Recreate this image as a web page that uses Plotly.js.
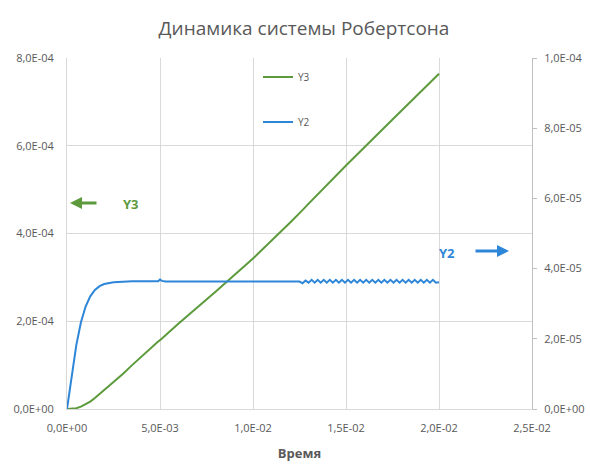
<!DOCTYPE html>
<html><head><meta charset="utf-8">
<script src="https://cdn.plot.ly/plotly-3.0.1.min.js"></script>
<style>html,body{margin:0;padding:0;background:#fff}#c{width:590px;height:464px}</style>
</head><body><div id="c"></div>
<script>
// Smooth part (time, Y3, Y2)
const tA  = [0, 0.00025, 0.0005, 0.00075, 0.001, 0.00125, 0.0015, 0.00175, 0.002, 0.0025, 0.003, 0.0035, 0.004, 0.0045, 0.0049, 0.005, 0.0051, 0.0053, 0.006, 0.008, 0.00862, 0.010, 0.012, 0.0125];
const y3A = [0, 0.3e-6, 1.8e-6, 5.3e-6, 1.05e-5, 1.7e-5, 2.5e-5, 3.4e-5, 4.3e-5, 6.1e-5, 8.0e-5, 1.0e-4, 1.20e-4, 1.39e-4, 1.54e-4, 1.57e-4, 1.61e-4, 1.68e-4, 1.95e-4, 2.68e-4, 2.91e-4, 3.43e-4, 4.25e-4, 4.45e-4];
const y2A = [0, 0.98e-5, 1.82e-5, 2.47e-5, 2.92e-5, 3.21e-5, 3.39e-5, 3.50e-5, 3.56e-5, 3.61e-5, 3.63e-5, 3.64e-5, 3.64e-5, 3.64e-5, 3.64e-5, 3.69e-5, 3.65e-5, 3.63e-5, 3.63e-5, 3.63e-5, 3.63e-5, 3.63e-5, 3.63e-5, 3.63e-5];
// Oscillating part of Y2 (time, Y2)
const tB  = [0.012663, 0.012826, 0.012989, 0.013152, 0.013315, 0.013478, 0.013641, 0.013804, 0.013967, 0.014130, 0.014293, 0.014456, 0.014619, 0.014782, 0.014945, 0.015108, 0.015271, 0.015434, 0.015597, 0.015760, 0.015923, 0.016086, 0.016249, 0.016412, 0.016575, 0.016738, 0.016901, 0.017064, 0.017227, 0.017390, 0.017553, 0.017716, 0.017879, 0.018042, 0.018205, 0.018368, 0.018531, 0.018694, 0.018857, 0.019020, 0.019183, 0.019346, 0.019509, 0.019672, 0.019835, 0.020000];
const y2B = [3.58e-5, 3.66e-5, 3.60e-5, 3.68e-5, 3.60e-5, 3.68e-5, 3.60e-5, 3.68e-5, 3.60e-5, 3.68e-5, 3.60e-5, 3.68e-5, 3.60e-5, 3.68e-5, 3.60e-5, 3.68e-5, 3.60e-5, 3.68e-5, 3.60e-5, 3.68e-5, 3.60e-5, 3.68e-5, 3.60e-5, 3.68e-5, 3.60e-5, 3.68e-5, 3.60e-5, 3.68e-5, 3.60e-5, 3.68e-5, 3.60e-5, 3.68e-5, 3.60e-5, 3.68e-5, 3.60e-5, 3.68e-5, 3.60e-5, 3.68e-5, 3.60e-5, 3.68e-5, 3.60e-5, 3.68e-5, 3.60e-5, 3.68e-5, 3.60e-5, 3.61e-5];
// Linear tail of Y3 (time, Y3)
const tC  = [0.0127, 0.0129, 0.015, 0.0175, 0.020];
const y3C = [4.55e-4, 4.64e-4, 5.55e-4, 6.60e-4, 7.64e-4];

const xTicks = [0, 0.005, 0.010, 0.015, 0.020, 0.025];
const xTickText = ['0,0E+00', '5,0E-03', '1,0E-02', '1,5E-02', '2,0E-02', '2,5E-02'];
const yTicks = [0, 2e-4, 4e-4, 6e-4, 8e-4];
const yTickText = ['0,0E+00', '2,0E-04', '4,0E-04', '6,0E-04', '8,0E-04'];
const y2Ticks = [0, 2e-5, 4e-5, 6e-5, 8e-5, 1e-4];
const y2TickText = ['0,0E+00', '2,0E-05', '4,0E-05', '6,0E-05', '8,0E-05', '1,0E-04'];

const GREEN = '#5c9a3c', BLUE = '#2e86d8', TXT = '#595959', GRID = '#d9d9d9';
const F = '"Open Sans", "Noto Sans", sans-serif';

const traces = [
  {x: tA.concat(tC), y: y3A.concat(y3C), type: 'scatter', mode: 'lines', name: 'Y3',
   line: {color: GREEN, width: 2}, yaxis: 'y', legend: 'legend'},
  {x: tA.concat(tB), y: y2A.concat(y2B), type: 'scatter', mode: 'lines', name: 'Y2',
   line: {color: BLUE, width: 2}, yaxis: 'y2', legend: 'legend2'}
];

const L = 67, R = 532, T = 58, B = 409;
const px = v => (v - L) / (R - L);
const py = v => (B - v) / (B - T);

const layout = {
  width: 590, height: 464,
  margin: {l: L, r: 590 - R, t: T, b: 464 - B},
  paper_bgcolor: '#fff', plot_bgcolor: '#fff',
  font: {family: F, color: TXT, size: 11},
  title: {text: 'Динамика системы Робертсона', font: {family: F, size: 19, color: TXT},
          x: 304/590, xanchor: 'center', y: 1 - 28/464, yanchor: 'middle'},
  xaxis: {range: [0, 0.025], tickvals: xTicks, ticktext: xTickText, showgrid: true, gridcolor: GRID,
          showline: true, linecolor: GRID, zeroline: false, ticks: '', ticklabelstandoff: 9,
          tickfont: {size: 11, color: TXT},
          title: {text: '<b>Время</b>', font: {size: 13, color: TXT}, standoff: 14}},
  yaxis: {range: [0, 8e-4], tickvals: yTicks, ticktext: yTickText, showgrid: true, gridcolor: GRID,
          showline: true, linecolor: GRID, zeroline: false, ticks: '', ticklabelstandoff: 10,
          tickfont: {size: 11, color: TXT}},
  yaxis2: {range: [0, 1e-4], tickvals: y2Ticks, ticktext: y2TickText, overlaying: 'y', side: 'right',
           showgrid: false, showline: true, linecolor: '#bfbfbf', zeroline: false, ticks: 'outside',
           ticklen: 4, tickcolor: '#bfbfbf', ticklabelstandoff: 5, tickfont: {size: 11, color: TXT}},
  showlegend: true,
  legend: {x: px(258), y: py(77), xanchor: 'left', yanchor: 'middle', bgcolor: 'rgba(0,0,0,0)',
           font: {size: 10, color: TXT}},
  legend2: {x: px(258), y: py(122), xanchor: 'left', yanchor: 'middle', bgcolor: 'rgba(0,0,0,0)',
           font: {size: 10, color: TXT}},
  annotations: [
    {xref: 'paper', yref: 'paper', x: px(70), y: py(203), ax: 28, ay: 0, axref: 'pixel', ayref: 'pixel',
     text: '', showarrow: true, arrowhead: 2, arrowsize: 0.8, arrowwidth: 3, arrowcolor: GREEN},
    {xref: 'paper', yref: 'paper', x: px(121), y: py(204), text: '<b>Y3</b>', showarrow: false,
     font: {size: 13, color: GREEN}},
    {xref: 'paper', yref: 'paper', x: px(509), y: py(251), ax: -35, ay: 0, axref: 'pixel', ayref: 'pixel',
     text: '', showarrow: true, arrowhead: 2, arrowsize: 0.8, arrowwidth: 3, arrowcolor: BLUE},
    {xref: 'paper', yref: 'paper', x: px(457), y: py(253), text: '<b>Y2</b>', showarrow: false,
     font: {size: 13, color: BLUE}}
  ]
};
Plotly.newPlot('c', traces, layout, {displayModeBar: false, staticPlot: true});
</script></body></html>
